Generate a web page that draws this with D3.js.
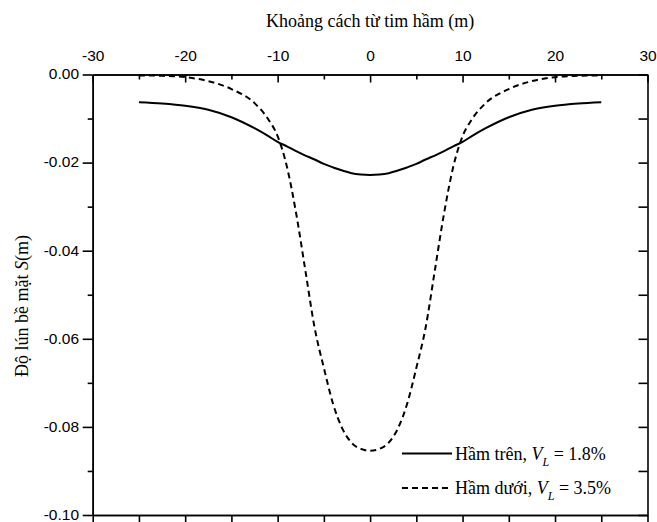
<!DOCTYPE html>
<html>
<head>
<meta charset="utf-8">
<script src="https://cdn.jsdelivr.net/npm/d3@7"></script>
<style>
  html, body { margin: 0; padding: 0; background: #fff; }
  svg { display: block; }
</style>
</head>
<body>
<svg id="chart" width="657" height="522"></svg>
<script>
// ---- data ----
const xValues = [-25, -22.5, -20, -17.5, -15, -12.5, -11, -10, -9, -8, -7, -6, -5, -4, -3, -2, -1, 0,
                 1, 2, 3, 4, 5, 6, 7, 8, 9, 10, 11, 12.5, 15, 17.5, 20, 22.5, 25];
const upperTunnel = [-0.0063, -0.0066, -0.0071, -0.0080, -0.0097, -0.0122, -0.0140, -0.0153, -0.0163, -0.0174,
                     -0.0184, -0.0193, -0.0203, -0.0211, -0.0218, -0.0224, -0.0227, -0.0228,
                     -0.0227, -0.0224, -0.0218, -0.0211, -0.0203, -0.0193, -0.0184, -0.0174, -0.0163,
                     -0.0153, -0.0140, -0.0122, -0.0097, -0.0080, -0.0071, -0.0066, -0.0063];
const lowerTunnel = [-0.0002, -0.0003, -0.0006, -0.0015, -0.0033, -0.0065, -0.0102, -0.0140, -0.0209, -0.0315,
                     -0.0445, -0.0575, -0.0666, -0.0748, -0.0804, -0.0836, -0.0850, -0.0854,
                     -0.0850, -0.0836, -0.0804, -0.0748, -0.0666, -0.0575, -0.0445, -0.0315, -0.0209,
                     -0.0140, -0.0102, -0.0065, -0.0033, -0.0015, -0.0006, -0.0003, -0.0002];
const xMajorTicks = [-30, -20, -10, 0, 10, 20, 30];
const xMinorTicks = [-25, -15, -5, 5, 15, 25];
const yMajorTicks = [0, -0.02, -0.04, -0.06, -0.08, -0.10];
const yMinorTicks = [-0.01, -0.03, -0.05, -0.07, -0.09];
const xTitle = "Khoảng cách từ tim hầm (m)";
const legendLabels = ["Hầm trên, ", "Hầm dưới, "];
const legendValues = ["1.8%", "3.5%"];

// ---- layout ----
const svg = d3.select("#chart");
const L = 92.7, R = 647.5, T = 74.5, B = 515;
const x = d3.scaleLinear().domain([-30, 30]).range([L, R]);
const y = d3.scaleLinear().domain([-0.10, 0]).range([B, T]);
const sans = "'Liberation Sans', Arial, sans-serif";
const serif = "'Liberation Serif', 'Times New Roman', serif";

function styleAxis(g) {
  g.select(".domain").attr("stroke", "#000").attr("stroke-width", 1.6);
  g.selectAll(".tick line").attr("stroke", "#000").attr("stroke-width", 1.6);
  g.selectAll("text").attr("font-family", sans).attr("font-size", 15.5).attr("fill", "#000");
}

// top axis: labels, ticks inward
svg.append("g").attr("transform", `translate(0,${T})`)
  .call(d3.axisTop(x).tickValues(xMajorTicks).tickFormat(d3.format("d")).tickSizeInner(-8).tickSizeOuter(0).tickPadding(13.5))
  .call(styleAxis);
svg.append("g").attr("transform", `translate(0,${T})`)
  .call(d3.axisTop(x).tickValues(xMinorTicks).tickFormat("").tickSizeInner(-5).tickSizeOuter(0))
  .call(styleAxis);

// bottom axis: ticks outward, no labels
svg.append("g").attr("transform", `translate(0,${B})`)
  .call(d3.axisBottom(x).tickValues(xMajorTicks).tickFormat("").tickSizeInner(8).tickSizeOuter(0))
  .call(styleAxis);
svg.append("g").attr("transform", `translate(0,${B})`)
  .call(d3.axisBottom(x).tickValues(xMinorTicks).tickFormat("").tickSizeInner(7).tickSizeOuter(0))
  .call(styleAxis);

// left axis: labels, ticks outward
const leftAxis = svg.append("g").attr("transform", `translate(${L},0)`)
  .call(d3.axisLeft(y).tickValues(yMajorTicks).tickFormat(d3.format(".2f")).tickSizeInner(10).tickSizeOuter(0).tickPadding(3.7))
  .call(styleAxis);
leftAxis.selectAll(".tick text").attr("dy", "0.28em");
svg.append("g").attr("transform", `translate(${L},0)`)
  .call(d3.axisLeft(y).tickValues(yMinorTicks).tickFormat("").tickSizeInner(5).tickSizeOuter(0))
  .call(styleAxis);

// right axis: ticks inward
svg.append("g").attr("transform", `translate(${R},0)`)
  .call(d3.axisRight(y).tickValues(yMajorTicks.concat(yMinorTicks)).tickFormat("").tickSizeInner(-9).tickSizeOuter(0))
  .call(styleAxis);

// plain hyphen minus like the original
svg.selectAll(".tick text").text(function() { return d3.select(this).text().replace("−", "-"); });

// ---- curves ----
const line = d3.line().x(d => x(d[0])).y(d => y(d[1])).curve(d3.curveMonotoneX);
const upperPts = xValues.map((v, i) => [v, upperTunnel[i]]);
const lowerPts = xValues.map((v, i) => [v, lowerTunnel[i]]);

svg.append("path").datum(upperPts).attr("d", line)
  .attr("fill", "none").attr("stroke", "#000").attr("stroke-width", 2);
svg.append("path").datum(lowerPts).attr("d", line)
  .attr("fill", "none").attr("stroke", "#000").attr("stroke-width", 2)
  .attr("stroke-dasharray", "6,4");

// ---- titles ----
svg.append("text").attr("x", (L + R) / 2).attr("y", 27).attr("text-anchor", "middle")
  .attr("font-family", serif).attr("font-size", 18).attr("fill", "#000").text(xTitle);

const yt = svg.append("text").attr("transform", "translate(28,306) rotate(-90)")
  .attr("text-anchor", "middle").attr("font-family", serif).attr("font-size", 18).attr("fill", "#000");
yt.append("tspan").text("Độ lún bề mặt ");
yt.append("tspan").attr("font-style", "italic").text("S");
yt.append("tspan").text("(m)");

// ---- legend ----
const legY = [453.5, 488];
const dashes = [null, "6,4"];
legY.forEach((ly, i) => {
  svg.append("line").attr("x1", 402).attr("x2", 452).attr("y1", ly).attr("y2", ly)
    .attr("stroke", "#000").attr("stroke-width", 2)
    .attr("stroke-dasharray", dashes[i]);
  const t = svg.append("text").attr("x", 455).attr("y", ly + 6)
    .attr("font-family", serif).attr("font-size", 18).attr("fill", "#000");
  t.append("tspan").text(legendLabels[i]);
  t.append("tspan").attr("font-style", "italic").text("V");
  t.append("tspan").attr("font-style", "italic").attr("font-size", 12).attr("dy", 6).text("L");
  t.append("tspan").attr("dy", -6).text(" = " + legendValues[i]);
});
</script>
</body>
</html>
